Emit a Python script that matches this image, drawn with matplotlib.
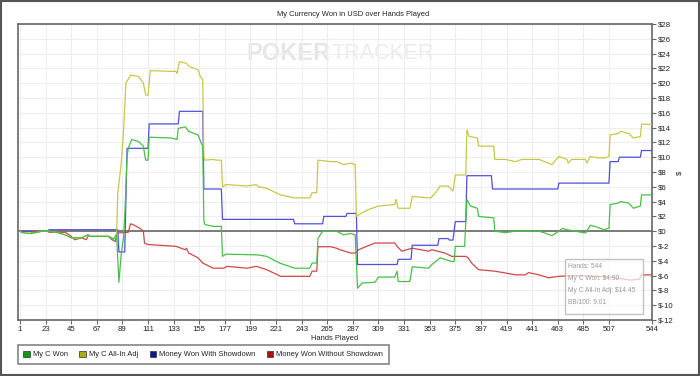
import matplotlib.pyplot as plt
from matplotlib.patches import Rectangle, Patch

plt.rcParams['font.family'] = ['Liberation Sans', 'DejaVu Sans']

# hand numbers / values (cumulative $)
won_h = [1, 3, 10, 14, 20, 25, 31, 40, 45, 54, 59, 61, 77, 80, 81, 83, 84, 86, 88, 90, 91, 93, 94, 97,
         103, 107, 108, 109, 111, 112, 131, 136, 137, 143, 144, 146, 154, 157, 158, 159, 160, 167, 174,
         175, 178, 205, 213, 224, 237, 250, 252, 256, 257, 261, 273, 279, 285, 289, 291, 295, 306, 309,
         323, 325, 326, 336, 338, 352, 355, 362, 372, 374, 375, 383, 385, 388, 394, 395, 408, 409, 418,
         426, 447, 452, 458, 464, 467, 471, 487, 491, 495, 503, 507, 508, 515, 517, 524, 528, 534, 535, 544]
won_v = [0, -0.2, -0.3, -0.2, 0, 0, -0.1, -0.5, -0.9, -0.9, -0.5, -0.7, -0.7, -0.9, -1.15, -0.7, -0.5,
         -6.9, -3.0, -0.9, 2.0, 10.0, 11.2, 12.4, 12.1, 11.5, 10.5, 9.6, 9.6, 12.7, 12.6, 12.4, 13.9, 14.1,
         13.9, 13.5, 13.0, 11.8, 11.5, 1.3, 0.9, 0.65, 0.65, -3.4, -3.1, -3.2, -3.4, -4.3, -5.0, -5.0,
         -4.3, -4.3, -1.0, 0, 0, -0.5, -0.3, -0.5, -7.7, -7.0, -6.9, -6.2, -6.2, -5.4, -6.8, -6.8, -4.8,
         -5.0, -4.5, -3.6, -4.1, -4.1, -2.05, -2.05, 4.3, 3.4, 3.1, 2.0, 1.8, 0, -0.2, 0, 0, -0.25, -0.6,
         0, 0.4, 0.2, -0.25, 0.8, 0.65, 0.2, 0.4, 3.6, 3.8, 4.0, 3.8, 3.1, 3.4, 4.9, 4.9]

adj_h = [1, 3, 10, 14, 20, 25, 31, 40, 45, 54, 59, 61, 77, 80, 81, 83, 84, 85, 88, 90, 92, 96, 103, 107,
         109, 111, 113, 131, 135, 136, 138, 144, 146, 154, 156, 158, 159, 160, 167, 170, 174, 175, 178,
         196, 204, 206, 213, 225, 237, 250, 252, 256, 257, 268, 273, 279, 285, 289, 290, 295, 300, 309,
         323, 324, 326, 336, 338, 352, 354, 358, 362, 369, 373, 375, 384, 385, 387, 394, 395, 408, 409,
         418, 427, 432, 447, 458, 464, 471, 472, 475, 487, 488, 491, 498, 504, 507, 508, 515, 517, 524,
         528, 534, 535, 544]
adj_v = [0, -0.2, -0.3, -0.2, 0, 0, -0.1, -0.5, -0.9, -0.9, -0.5, -0.7, -0.7, -0.9, -1.15, -0.7, -0.5,
         5.1, 9.2, 13.6, 20.0, 21.1, 20.9, 20.0, 18.4, 18.4, 21.7, 21.6, 21.6, 21.3, 22.9, 22.7, 22.3,
         21.8, 20.9, 20.5, 10.0, 9.6, 9.7, 9.6, 9.6, 6.0, 6.3, 6.1, 6.3, 6.0, 5.8, 4.9, 4.5, 4.5, 5.2,
         5.2, 9.6, 9.4, 9.4, 9.0, 9.2, 9.0, 2.0, 2.5, 2.9, 3.4, 3.6, 4.3, 3.1, 3.1, 4.7, 4.5, 4.5, 5.2,
         6.1, 6.1, 5.4, 7.6, 7.6, 13.7, 12.8, 12.6, 11.5, 11.5, 9.7, 9.7, 9.4, 9.7, 9.7, 9.0, 10.1, 9.7,
         9.2, 9.7, 9.7, 9.2, 10.1, 9.9, 9.9, 10.1, 13.0, 13.2, 13.5, 13.2, 12.6, 12.8, 14.45, 14.45]

sd_h = [1, 10, 11, 14, 20, 25, 26, 84, 85, 86, 91, 93, 111, 112, 137, 138, 158, 159, 174, 175, 236, 237,
        261, 262, 281, 282, 290, 291, 325, 326, 337, 338, 360, 361, 369, 370, 373, 375, 384, 385, 406,
        407, 463, 464, 507, 508, 515, 516, 534, 535, 544]
sd_v = [0, 0, -0.15, -0.15, 0, 0, 0.2, 0.2, 0.2, -2.8, -2.8, 11.2, 11.2, 14.5, 14.5, 16.2, 16.2, 5.7,
        5.7, 1.6, 1.6, 1.0, 1.0, 2.0, 2.0, 2.4, 2.4, -4.5, -4.5, -3.8, -3.8, -1.9, -1.9, -1.0, -1.0,
        -1.2, -1.2, 1.3, 1.3, 7.5, 7.5, 5.7, 5.7, 6.5, 6.5, 9.4, 9.4, 10.0, 10.0, 10.9, 10.9]

nsd_h = [1, 25, 26, 40, 45, 48, 54, 58, 60, 61, 77, 80, 83, 84, 94, 96, 98, 104, 107, 108, 111, 131,
         135, 143, 144, 146, 154, 158, 167, 176, 179, 196, 204, 213, 225, 236, 250, 252, 256, 257, 268,
         273, 276, 285, 289, 292, 298, 306, 323, 325, 329, 338, 352, 355, 366, 372, 384, 386, 389, 395,
         409, 418, 427, 435, 438, 447, 455, 464, 475, 500, 513, 525, 533, 535, 544]
nsd_v = [0, 0, -0.15, -0.15, -0.7, -1.15, -0.9, -1.15, -0.5, -0.7, -0.7, -1.15, -1.4, -0.25, -0.15,
         1.0, 0.9, 0.4, 0, -1.6, -1.8, -2.0, -2.05, -2.5, -2.3, -2.95, -3.6, -4.3, -5.0, -5.0, -4.75,
         -5.0, -4.75, -5.2, -6.1, -6.1, -6.1, -5.4, -5.4, -2.1, -2.1, -2.3, -2.5, -2.95, -2.95, -2.5,
         -2.1, -1.6, -1.6, -2.05, -2.7, -2.3, -2.7, -2.5, -2.95, -3.4, -3.4, -3.6, -4.3, -5.2, -5.4,
         -5.65, -5.9, -5.9, -5.6, -5.9, -6.3, -6.1, -6.0, -6.1, -6.3, -6.6, -6.5, -5.9, -5.9]

x_ticks = list(range(1, 508, 22)) + [544]
y_ticks = list(range(-12, 29, 2))

W, H = 700, 376
FS = 5.4
fig = plt.figure(figsize=(7, 3.76), dpi=100)
ax = fig.add_axes([18 / W, 1 - 320 / H, 634 / W, 296 / H])

ax.plot(nsd_h, nsd_v, color='#d04848', lw=0.9, zorder=3)
ax.plot(sd_h, sd_v, color='#5050dc', lw=0.9, zorder=3)
ax.plot(adj_h, adj_v, color='#c8c848', lw=0.9, zorder=3)
ax.plot(won_h, won_v, color='#48c048', lw=0.9, zorder=4)
ax.axhline(0, color='#666666', lw=1.2, zorder=2)

ax.set_xlim(-0.7, 544)
ax.set_ylim(-12, 28)
ax.set_xticks(x_ticks)
ax.set_yticks(y_ticks)
ax.set_yticklabels(['$%d' % v for v in y_ticks])
ax.yaxis.tick_right()
ax.tick_params(labelsize=5.6, labelcolor='#222222', color='#666666', length=3, width=0.8, pad=1.5)
ax.grid(color='#eeeeee', lw=0.8, zorder=0)
for s in ax.spines.values():
    s.set_color('#666666')
    s.set_linewidth(1.2)

fig.text(335 / W, 1 - 339 / H, 'Hands Played', ha='center', va='center', fontsize=FS, color='#222222')
fig.text(680 / W, 1 - 173 / H, '$', ha='center', va='center', rotation=90, fontsize=FS, color='#222222')

# watermark
ax.text(0.493, 0.9, 'POKER', transform=ax.transAxes, ha='right', va='center',
        fontsize=17, fontweight='bold', color='#e6e6e6', zorder=1)
ax.text(0.495, 0.9, 'TRACKER', transform=ax.transAxes, ha='left', va='center',
        fontsize=15.5, color='#ececec', zorder=1)

# tooltip box
fig.patches.append(Rectangle((565 / W, 1 - 314 / H), 78 / W, 55 / H, transform=fig.transFigure,
                             fc='white', ec='#aaaaaa', alpha=0.7, lw=1, zorder=10))
tip_lines = ['Hands: 544', 'My C Won: $4.90', 'My C All-In Adj: $14.45', 'BB/100: 9.01']
for i, line in enumerate(tip_lines):
    fig.text(568 / W, 1 - (267 + 12 * i) / H, line, ha='left', va='center', fontsize=4.8,
             color='#9a9a9a', zorder=11)

fig.text(353 / W, 1 - 14 / H, 'My Currency Won in USD over Hands Played',
         ha='center', va='center', fontsize=FS, color='#222222')

handles = [Patch(fc='#119911', ec='#333333', lw=0.5),
           Patch(fc='#aaaa11', ec='#333333', lw=0.5),
           Patch(fc='#1111aa', ec='#333333', lw=0.5),
           Patch(fc='#aa1111', ec='#333333', lw=0.5)]
labels = ['My C Won', 'My C All-In Adj', 'Money Won With Showdown', 'Money Won Without Showdown']
leg = fig.legend(handles, labels, loc='center left', bbox_to_anchor=(18 / W, 1 - 354.5 / H),
                 ncol=4, fontsize=FS, frameon=True, fancybox=False, edgecolor='#666666',
                 handlelength=0.85, handleheight=0.85, handletextpad=0.45, columnspacing=1.5,
                 borderpad=0.7, borderaxespad=0)
leg.get_frame().set_linewidth(1.2)
for t in leg.get_texts():
    t.set_color('#222222')

fig.patches.append(Rectangle((0.001, 0.002), 0.997, 0.995, transform=fig.transFigure,
                             fill=False, ec='#555555', lw=1.5))

fig.savefig('out.png', dpi=100)
